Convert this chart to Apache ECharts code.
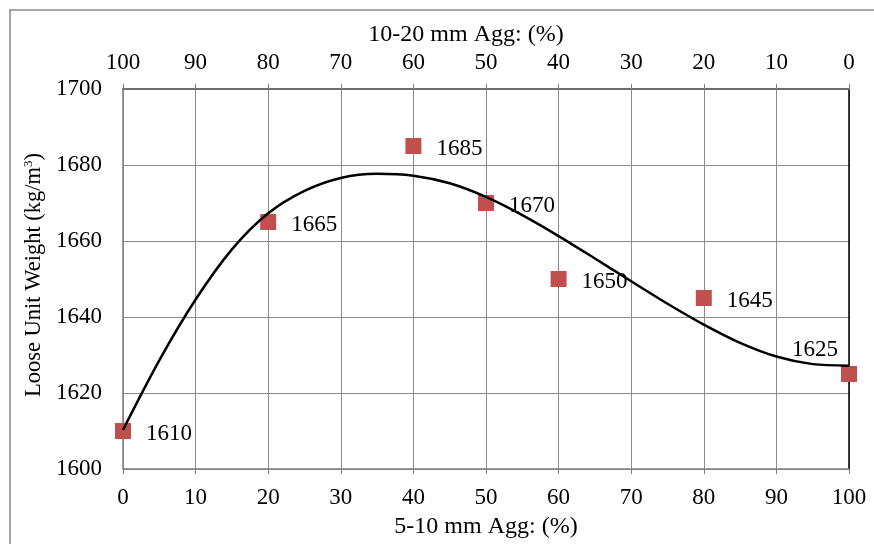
<!DOCTYPE html>
<html>
<head>
<meta charset="utf-8">
<script src="https://cdn.jsdelivr.net/npm/echarts@6/dist/echarts.min.js"></script>
<style>
  html, body { margin: 0; padding: 0; background: #fff; }
  #chart { width: 874px; height: 544px; }
</style>
</head>
<body>
<div id="chart"></div>
<script>
// Measured loose unit weight for each blend of 5-10 mm / 10-20 mm aggregate
const finePct = [0, 20, 40, 50, 60, 80, 100];
const looseWeight = [1610, 1665, 1685, 1670, 1650, 1645, 1625];

// Trend curve drawn through the measurements
const trendPct = [0, 5, 10, 15, 20, 25, 30, 35, 40, 45, 50, 55, 60, 65, 70, 75, 80, 85, 90, 95, 100];
const trendWeight = [1610.3, 1628.6, 1644.6, 1657.8, 1667.3, 1673.2, 1676.6, 1677.7, 1677.2, 1675.2,
                     1671.6, 1666.8, 1661.3, 1655.4, 1649.4, 1643.5, 1638.0, 1633.2, 1629.6, 1627.6, 1627.2];

const xTitle = '5-10 mm Agg: (%)';
const x2Title = '10-20 mm Agg: (%)';
const yTitle = 'Loose Unit Weight (kg/m{sup|3})';

const FONT = 'Liberation Serif';
const GRID_COLOR = '#8c8c8c';
const AXIS_COLOR = '#7f7f7f';

const chart = echarts.init(document.getElementById('chart'), null, { renderer: 'canvas' });

const pointData = finePct.map((x, i) => {
  const item = { value: [x, looseWeight[i]] };
  if (i === finePct.length - 1) {
    item.label = { position: 'top', distance: 5, offset: [-34, 0] };
  }
  return item;
});

const option = {
  backgroundColor: '#ffffff',
  animation: false,
  grid: { left: 123, right: 25, top: 89, bottom: 75, containLabel: false },
  graphic: [
    {
      type: 'rect', silent: true, z: -10,
      shape: { x: 10, y: 10, width: 900, height: 600 },
      style: { fill: 'none', stroke: '#8a8a8a', lineWidth: 1.5 }
    },
    {
      type: 'text', silent: true,
      x: 466, y: 35,
      style: { text: x2Title, font: '24px "' + FONT + '"', fill: '#000', textAlign: 'center', textVerticalAlign: 'middle' }
    },
    {
      type: 'text', silent: true,
      x: 486, y: 527,
      style: { text: xTitle, font: '24px "' + FONT + '"', fill: '#000', textAlign: 'center', textVerticalAlign: 'middle' }
    }
  ],
  xAxis: [
    {
      type: 'value', position: 'bottom', min: 0, max: 100, interval: 10,
      axisLine: { show: true, lineStyle: { color: AXIS_COLOR, width: 1.5 } },
      axisTick: { show: true, length: 5, lineStyle: { color: AXIS_COLOR, width: 1 } },
      splitLine: { show: true, lineStyle: { color: GRID_COLOR, width: 1 } },
      axisLabel: { fontFamily: FONT, fontSize: 23, color: '#000', margin: 17 }
    },
    {
      type: 'value', position: 'top', inverse: true, min: 0, max: 100, interval: 10,
      axisLine: { show: true, onZero: false, lineStyle: { color: '#6f6f6f', width: 2 } },
      axisTick: { show: true, length: 5, lineStyle: { color: AXIS_COLOR, width: 1 } },
      splitLine: { show: false },
      axisLabel: { fontFamily: FONT, fontSize: 23, color: '#000', margin: 15 }
    }
  ],
  yAxis: [
    {
      type: 'value', position: 'left', min: 1600, max: 1700, interval: 20,
      name: yTitle, nameLocation: 'middle', nameGap: 72,
      nameTextStyle: {
        fontFamily: FONT, fontSize: 22.5, color: '#000', padding: [0, 0, 0, 8],
        rich: { sup: { fontFamily: FONT, fontSize: 13, color: '#000', verticalAlign: 'top', padding: [0, 0, 10, 0] } }
      },
      axisLine: { show: true, lineStyle: { color: AXIS_COLOR, width: 1.5 } },
      axisTick: { show: false },
      splitLine: { show: true, lineStyle: { color: GRID_COLOR, width: 1 } },
      axisLabel: { fontFamily: FONT, fontSize: 23, color: '#000', margin: 21, formatter: v => String(v) }
    },
    {
      type: 'value', position: 'right', min: 1600, max: 1700, interval: 20,
      axisLine: { show: true, onZero: false, lineStyle: { color: '#000', width: 1.5 } },
      axisTick: { show: false },
      axisLabel: { show: false },
      splitLine: { show: false }
    }
  ],
  series: [
    {
      name: 'Loose unit weight',
      type: 'scatter',
      xAxisIndex: 0, yAxisIndex: 0,
      symbol: 'rect', symbolSize: 16,
      itemStyle: { color: '#C0504D', opacity: 1 },
      z: 2,
      label: {
        show: true, position: 'right', distance: 15, offset: [0, 3],
        fontFamily: FONT, fontSize: 23, color: '#000',
        formatter: p => String(p.value[1])
      },
      data: pointData
    },
    {
      name: 'Trend',
      type: 'line',
      xAxisIndex: 0, yAxisIndex: 0,
      smooth: 0.3,
      showSymbol: false,
      lineStyle: { color: '#000', width: 2.5 },
      z: 3,
      data: trendPct.map((x, i) => [x, trendWeight[i]])
    }
  ]
};

chart.setOption(option);
</script>
</body>
</html>
